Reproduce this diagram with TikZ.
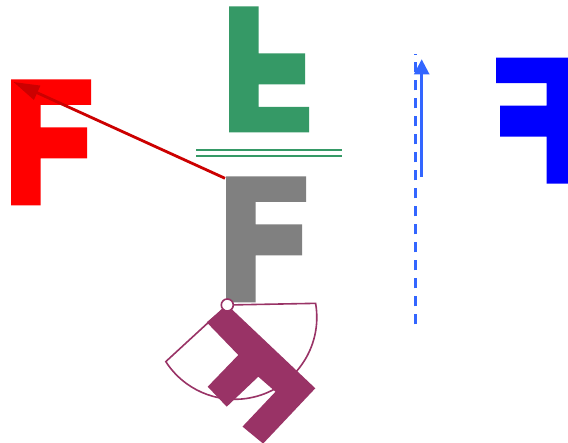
\documentclass[tikz,border=0pt]{standalone}
\usetikzlibrary{arrows.meta}
\definecolor{fred}{RGB}{255,0,0}
\definecolor{arrred}{RGB}{204,0,0}
\definecolor{fgreen}{RGB}{53,153,102}
\definecolor{fgray}{RGB}{128,128,128}
\definecolor{fblue}{RGB}{0,0,255}
\definecolor{lblue}{RGB}{51,102,255}
\definecolor{fpurple}{RGB}{153,51,102}
\newcommand{\FshapePath}{(0,0) -- (80,0) -- (80,25.5) -- (29.5,25.5) -- (29.5,48) -- (76,48) -- (76,79) -- (29.5,79) -- (29.5,126) -- (0,126) -- cycle}
\tikzset{
  thinpurple/.style={draw=fpurple, line width=1.6pt},
  mirrorline/.style={fgreen, line width=2.3pt},
}
\begin{document}
\begin{tikzpicture}[x=1pt,y=-1pt]
\clip (0,0) rectangle (568,443);
\fill[white] (0,0) rectangle (568,443);
% original (gray)
\begin{scope}[shift={(226,176.5)}]
  \fill[fgray] \FshapePath;
\end{scope}
% translated (red)
\begin{scope}[shift={(11,79.3)}]
  \fill[fred] \FshapePath;
\end{scope}
% reflected in horizontal line (green)
\begin{scope}[shift={(229,132.3)}, yscale=-1]
  \fill[fgreen] \FshapePath;
\end{scope}
\draw[mirrorline] (196,150) -- (341.7,150);
\draw[mirrorline] (196,155.7) -- (341.7,155.7);
% glide reflection (blue)
\begin{scope}[shift={(576,57.7)}, xscale=-1]
  \fill[fblue] \FshapePath;
\end{scope}
\coordinate (dashTop) at (415.7,54);
\coordinate (dashBot) at (415.7,324.3);
\draw[lblue, line width=2.6pt, dash pattern=on 10pt off 8pt] (dashBot) -- (dashTop);
\coordinate (glideFrom) at (421.7,176.7);
\coordinate (glideTo) at (421.7,59.3);
\draw[lblue, line width=2.5pt, -{Triangle[length=15pt,width=15pt]}] (glideFrom) -- (glideTo);
% translation vector
\coordinate (grayTL) at (225,178.3);
\coordinate (redTL) at (13.5,82);
\draw[arrred, line width=2.8pt, -{Triangle[length=26pt,width=15pt]}] (grayTL) -- (redTL);
% rotation (purple)
\coordinate (rotC) at (227.3,305);
\draw[thinpurple] (rotC) -- (315.6,303.35) arc[start angle=9.8, end angle=-147.3, radius=82pt] -- cycle;
\fill[fpurple] (227.3,305) -- (206.7,322.3) -- (238.3,355) -- (207.7,386.7) -- (226.7,406.7)
  -- (258.3,376.7) -- (275.5,391.7) -- (242.5,426.6) -- (263.1,443.6) -- (315.3,388.3) -- cycle;
\node[circle, draw=fpurple, fill=white, line width=1.6pt, minimum size=12pt, inner sep=0pt] (ctr) at (rotC) {};
\end{tikzpicture}
\end{document}
